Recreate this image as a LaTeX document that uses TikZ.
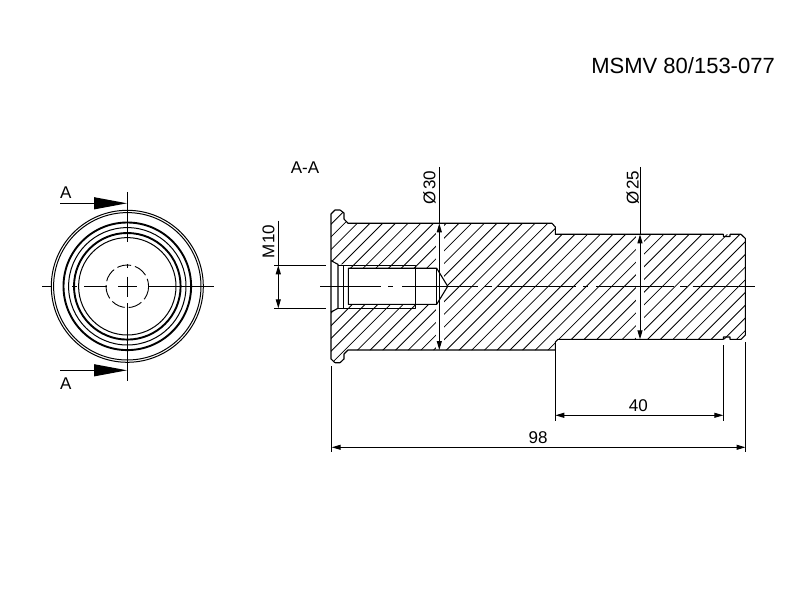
\documentclass[tikz,border=0pt]{standalone}
\usepackage{fontspec}
\setmainfont{Liberation Sans}
\usetikzlibrary{arrows.meta}

\begin{document}
\begin{tikzpicture}[x=1pt,y=-1pt,
        outline/.style={line width=1.1pt,line join=round},
        thin line/.style={line width=1pt},
        hatch/.style={line width=0.8pt},
        thick circle/.style={line width=1.9pt},
        hidden/.style={line width=0.9pt,dash pattern=on 14pt off 4pt},
        dim/.style={line width=1pt,{Triangle[length=9pt,width=5pt]}-{Triangle[length=9pt,width=5pt]}},
        cut/.style={line width=1pt,-{Triangle[length=33pt,width=12pt]}},
        label/.style={inner sep=0pt,font=\fontsize{17}{17}\selectfont}
        ]
        \useasboundingbox (0,0) rectangle (792,612);
        \node (title) [inner sep=0pt,anchor=east,font=\fontsize{22}{22}\selectfont] at (775,66) {MSMV 80/153-077};
        % end view
        \coordinate (c) at (127.3,286.3);
        \draw[thin line] (c) circle (76) (c) circle (73.7) (c) circle (58.7) (c) circle (48.7);
        \draw[thick circle] (c) circle (63.8) (c) circle (53.3);
        \draw[hidden] (c) circle (21.3);
        \draw[thin line] (42,286.3) -- (52,286.3) (72,286.3) -- (77,286.3) (84,286.3) -- (106.7,286.3) (118.3,286.3) -- (137,286.3) (148.3,286.3) -- (214,286.3);
        \draw[thin line] (127.3,192) -- (127.3,242) (127.3,264) -- (127.3,268) (127.3,276.7) -- (127.3,297) (127.3,303) -- (127.3,381);
        \coordinate (cuttop) at (60,203.3);
        \coordinate (cutbot) at (60,370.3);
        \draw[cut] (cuttop) -- (127,203.3);
        \draw[cut] (cutbot) -- (127,370.3);
        \node (atop) [label] at (65.7,192.7) {A};
        \node (abot) [label] at (65.7,384) {A};
        % section
        \node (aa) [label] at (305,168) {A-A};
        \begin{scope}
            \clip (331,214) -- (335,210) -- (340,210) -- (344,213) -- (344,219) -- (348,223.3) -- (552,223.3) -- (555.3,227) -- (555.3,234.3) -- (745.3,234.3) -- (745.3,339.3) -- (555.3,339.3) -- (555.3,346) -- (552,350) -- (348,350) -- (344,354) -- (344,359) -- (340,362.7) -- (335,362.7) -- (331,359) -- cycle;
            \foreach \k in {0,...,55}
                \draw[hatch] ({580.6+12.7*(\k-12)-200},200) -- ({580.6+12.7*(\k-12)-380},380);
            \fill[white] (331,260.7) -- (338,264.3) -- (348.3,264.3) -- (348.3,268.3) -- (436.7,268.3) -- (447.7,286.3) -- (436.7,304.3) -- (348.3,304.3) -- (348.3,308.3) -- (338,308.3) -- (331,312) -- cycle;
            \fill[white] (435.5,200) rectangle (444,380);
            \fill[white] (636,200) rectangle (644,380);
        \end{scope}
        \draw[outline] (331,214) -- (335,210) -- (340,210) -- (344,213) -- (344,219) -- (348,223.3) -- (552,223.3) -- (555.3,227) -- (555.3,234.3) -- (723.3,234.3) -- (723.3,236.5) -- (730,236.5) -- (730,234.3) -- (741,234.3) -- (745.3,238.5) -- (745.3,335) -- (741,339.3) -- (730,339.3) -- (730,337) -- (723.3,337) -- (723.3,339.3) -- (558,339.3) -- (555.3,342) -- (555.3,350) -- (348,350) -- (344,354) -- (344,359) -- (340,362.7) -- (335,362.7) -- (331,359) -- cycle;
        % threaded hole
        \draw[outline] (331,260.7) -- (338,264.3) -- (338,308.3) -- (331,312);
        \draw[outline] (338,265.3) -- (415.7,265.3) -- (415.7,308.3) -- (338,308.3);
        \draw[outline] (343.3,265.3) -- (343.3,308.3);
        \draw[outline] (348.3,268.3) -- (436.7,268.3) -- (447.7,286.3) -- (436.7,304.3) -- (348.3,304.3) -- cycle;
        \draw[outline] (436.7,268.3) -- (436.7,304.3);
        % centre line
        \draw[thin line] (320,286.3) -- (381,286.3) (388,286.3) -- (393,286.3) (402,286.3) -- (478.3,286.3) (485,286.3) -- (491.7,286.3) (497.3,286.3) -- (575.7,286.3) (583.3,286.3) -- (588.3,286.3) (596,286.3) -- (674.3,286.3) (680,286.3) -- (687.3,286.3) (692.7,286.3) -- (755,286.3);
        % dimensions
        \draw[thin line] (274,265.3) -- (326,265.3) (274,308.3) -- (326,308.3);
        \draw[thin line] (278.3,220.7) -- (278.3,265.3);
        \draw[dim] (278.3,265.3) -- (278.3,308.3);
        \node (m10) [label,rotate=90] at (268.5,241.5) {M10};
        \draw[thin line] (439.3,167) -- (439.3,223.3);
        \draw[dim] (439.3,223.3) -- (439.3,350);
        \node (d30) [label,rotate=90] at (429.5,187.5) {Ø\kern1pt 30};
        \draw[thin line] (640,167) -- (640,234.3);
        \draw[dim] (640,234.3) -- (640,339.3);
        \node (d25) [label,rotate=90] at (632.7,187.5) {Ø\kern1pt 25};
        \draw[thin line] (555.3,345) -- (555.3,420.7) (723.3,345) -- (723.3,420.7);
        \draw[dim] (555.3,415.3) -- (723.3,415.3);
        \node (l40) [label] at (638.3,406) {40};
        \draw[thin line] (331.7,366) -- (331.7,451.7) (745.5,342) -- (745.5,451.7);
        \draw[dim] (331.7,447.3) -- (745.5,447.3);
        \node (l98) [label] at (538,438) {98};
    \end{tikzpicture}
\end{document}
